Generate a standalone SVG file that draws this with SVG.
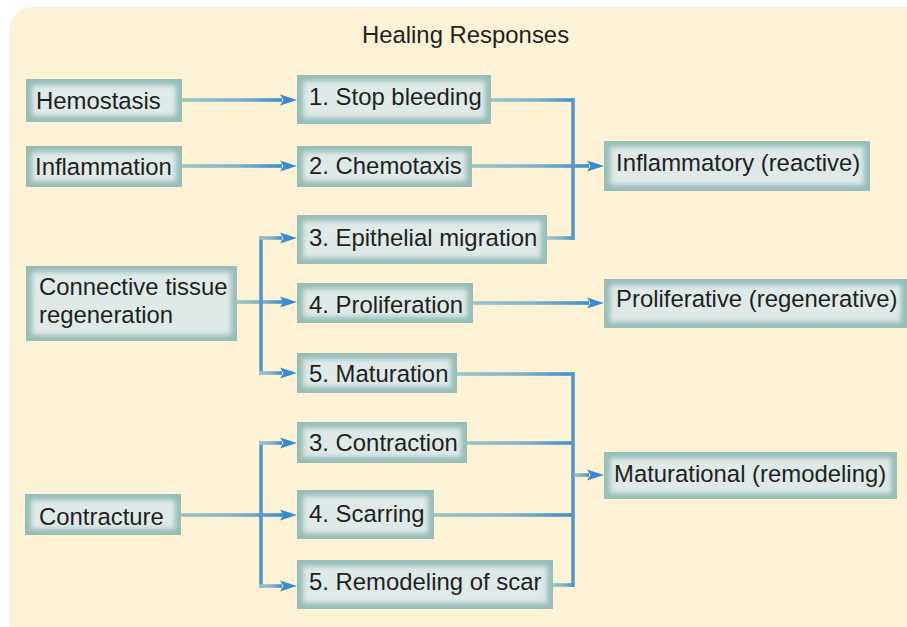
<svg xmlns="http://www.w3.org/2000/svg" xmlns:xlink="http://www.w3.org/1999/xlink" width="907" height="627" viewBox="0 0 907 627">
<defs>
<filter id="soft" x="-10%" y="-20%" width="120%" height="140%"><feGaussianBlur stdDeviation="2.4"/></filter>
<linearGradient id="lg" x1="0" y1="0" x2="1" y2="0">
<stop offset="0" stop-color="#9cc5c2"/>
<stop offset="0.55" stop-color="#7fb1c9"/>
<stop offset="1" stop-color="#3e8ecd"/>
</linearGradient>
<path id="ah" d="M0,0 L-17,-5.5 L-13.5,0 L-17,5.5 Z" fill="#3a8bcb"/>
<style>
.bo{fill:#96bdb7}
.bi{fill:#dfeae8}
.t{font-family:"Liberation Sans",Arial,sans-serif;font-size:23.9px;fill:#231f20}
.h{fill:url(#lg)}
.v{fill:#5598d0}
</style>
</defs>
<rect x="10" y="7" width="930" height="640" rx="22" fill="#fef2d6"/>
<text class="t" x="465.5" y="43" text-anchor="middle">Healing Responses</text>

<g id="connectors">
<rect class="h" x="182" y="98.2" width="100" height="3.6"/>
<use xlink:href="#ah" x="297" y="100"/>
<rect class="h" x="182" y="164.2" width="100" height="3.6"/>
<use xlink:href="#ah" x="297" y="166"/>
<rect class="h" x="491" y="98.2" width="83" height="3.6"/>
<rect class="h" x="547" y="236.2" width="27" height="3.6"/>
<rect class="v" x="571.2" y="98.2" width="3.6" height="141.6"/>
<rect class="h" x="472" y="164.2" width="117" height="3.6"/>
<use xlink:href="#ah" x="604" y="166"/>
<rect class="h" x="237" y="300.2" width="46" height="3.6"/>
<rect class="v" x="259.2" y="236.2" width="3.6" height="138.6"/>
<rect class="h" x="259.2" y="236.2" width="23" height="3.6"/>
<rect class="h" x="259.2" y="371.2" width="23" height="3.6"/>
<use xlink:href="#ah" x="297" y="238"/>
<use xlink:href="#ah" x="297" y="302"/>
<use xlink:href="#ah" x="297" y="373"/>
<rect class="h" x="473" y="301.2" width="116" height="3.6"/>
<use xlink:href="#ah" x="604" y="303"/>
<rect class="h" x="457" y="372.2" width="117" height="3.6"/>
<rect class="h" x="467" y="441.2" width="107" height="3.6"/>
<rect class="h" x="434" y="513.2" width="140" height="3.6"/>
<rect class="h" x="553" y="583.2" width="21" height="3.6"/>
<rect class="v" x="571.2" y="372.2" width="3.6" height="214.6"/>
<rect class="h" x="574" y="473.2" width="15" height="3.6"/>
<use xlink:href="#ah" x="604" y="475"/>
<rect class="h" x="181" y="513.2" width="102" height="3.6"/>
<rect class="v" x="259.2" y="441.2" width="3.6" height="146.6"/>
<rect class="h" x="259.2" y="441.2" width="23" height="3.6"/>
<rect class="h" x="259.2" y="584.2" width="23" height="3.6"/>
<use xlink:href="#ah" x="297" y="443"/>
<use xlink:href="#ah" x="297" y="515"/>
<use xlink:href="#ah" x="297" y="586"/>
</g>

<g id="n-hemostasis"><rect class="bo" x="26" y="79" width="156" height="43"/><rect class="bi" x="32" y="85" width="144" height="31" filter="url(#soft)"/><text class="t" x="36" y="109">Hemostasis</text></g>
<g id="n-inflammation"><rect class="bo" x="26" y="146" width="156" height="41"/><rect class="bi" x="32" y="152" width="144" height="29" filter="url(#soft)"/><text class="t" x="35" y="175">Inflammation</text></g>
<g id="n-stop"><rect class="bo" x="297" y="75" width="194" height="49"/><rect class="bi" x="303" y="81" width="182" height="37" filter="url(#soft)"/><text class="t" x="309" y="105">1. Stop bleeding</text></g>
<g id="n-chemo"><rect class="bo" x="297" y="146" width="175" height="41"/><rect class="bi" x="303" y="152" width="163" height="29" filter="url(#soft)"/><text class="t" x="309" y="174">2. Chemotaxis</text></g>
<g id="n-epi"><rect class="bo" x="297" y="215" width="250" height="49"/><rect class="bi" x="303" y="221" width="238" height="37" filter="url(#soft)"/><text class="t" x="309" y="246">3. Epithelial migration</text></g>
<g id="n-connective"><rect class="bo" x="26" y="266" width="211" height="75"/><rect class="bi" x="32" y="272" width="199" height="63" filter="url(#soft)"/><text class="t" x="39" y="295">Connective tissue</text><text class="t" x="39" y="323">regeneration</text></g>
<g id="n-prolif"><rect class="bo" x="297" y="283" width="176" height="40"/><rect class="bi" x="303" y="289" width="164" height="28" filter="url(#soft)"/><text class="t" x="309" y="313">4. Proliferation</text></g>
<g id="n-matur"><rect class="bo" x="297" y="353" width="160" height="40"/><rect class="bi" x="303" y="359" width="148" height="28" filter="url(#soft)"/><text class="t" x="309" y="382">5. Maturation</text></g>
<g id="n-contraction"><rect class="bo" x="297" y="422" width="170" height="41"/><rect class="bi" x="303" y="428" width="158" height="29" filter="url(#soft)"/><text class="t" x="309" y="451">3. Contraction</text></g>
<g id="n-scarring"><rect class="bo" x="297" y="490" width="137" height="49"/><rect class="bi" x="303" y="496" width="125" height="37" filter="url(#soft)"/><text class="t" x="309" y="522">4. Scarring</text></g>
<g id="n-remodel"><rect class="bo" x="297" y="560" width="256" height="49"/><rect class="bi" x="303" y="566" width="244" height="37" filter="url(#soft)"/><text class="t" x="309" y="590">5. Remodeling of scar</text></g>
<g id="n-contracture"><rect class="bo" x="25" y="494" width="156" height="41"/><rect class="bi" x="31" y="500" width="144" height="29" filter="url(#soft)"/><text class="t" x="39" y="525">Contracture</text></g>
<g id="n-inflammatory"><rect class="bo" x="604" y="141" width="266" height="50"/><rect class="bi" x="610" y="147" width="254" height="38" filter="url(#soft)"/><text class="t" x="616" y="171">Inflammatory (reactive)</text></g>
<g id="n-proliferative"><rect class="bo" x="604" y="279" width="303" height="49"/><rect class="bi" x="610" y="285" width="291" height="37" filter="url(#soft)"/><text class="t" x="616" y="307">Proliferative (regenerative)</text></g>
<g id="n-maturational"><rect class="bo" x="604" y="452" width="293" height="47"/><rect class="bi" x="610" y="458" width="281" height="35" filter="url(#soft)"/><text class="t" x="614" y="482">Maturational (remodeling)</text></g>
</svg>
